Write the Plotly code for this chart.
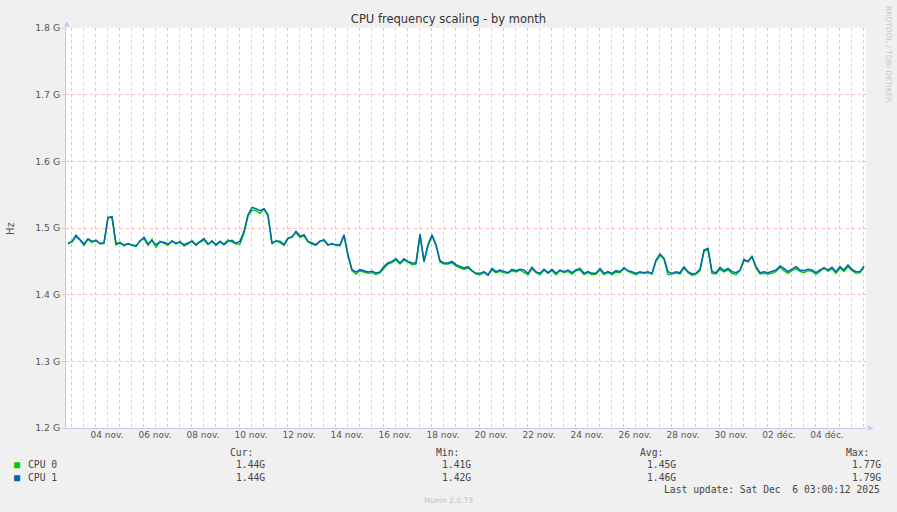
import pandas as pd
import plotly.graph_objects as go

# munin "by month" view: 800 hours, one point every 4 h
start = "2025-11-02 19:00"
end = "2025-12-06 03:00"
times = pd.date_range("2025-11-02 21:00", periods=200, freq="4h")

cpu0 = [
    1.478, 1.479, 1.487, 1.482, 1.474, 1.483, 1.478, 1.482, 1.476, 1.477,
    1.515, 1.516, 1.474, 1.479, 1.473, 1.477, 1.474, 1.472, 1.481, 1.484,
    1.474, 1.483, 1.471, 1.480, 1.477, 1.474, 1.481, 1.476, 1.480, 1.473,
    1.476, 1.481, 1.474, 1.479, 1.482, 1.475, 1.481, 1.474, 1.479, 1.476,
    1.482, 1.479, 1.476, 1.476, 1.492, 1.518, 1.527, 1.526, 1.522, 1.528,
    1.518, 1.476, 1.481, 1.478, 1.474, 1.484, 1.487, 1.493, 1.486, 1.488,
    1.479, 1.476, 1.474, 1.481, 1.481, 1.474, 1.477, 1.474, 1.473, 1.488,
    1.458, 1.436, 1.431, 1.436, 1.434, 1.432, 1.433, 1.430, 1.433, 1.440,
    1.446, 1.448, 1.452, 1.446, 1.452, 1.449, 1.445, 1.446, 1.489, 1.449,
    1.473, 1.488, 1.474, 1.449, 1.446, 1.446, 1.448, 1.443, 1.441, 1.438,
    1.440, 1.435, 1.431, 1.430, 1.433, 1.429, 1.437, 1.433, 1.435, 1.433,
    1.432, 1.436, 1.434, 1.437, 1.434, 1.430, 1.439, 1.433, 1.430, 1.437,
    1.432, 1.436, 1.430, 1.436, 1.433, 1.435, 1.431, 1.436, 1.437, 1.430,
    1.433, 1.430, 1.431, 1.437, 1.430, 1.433, 1.430, 1.434, 1.433, 1.441,
    1.435, 1.432, 1.430, 1.433, 1.432, 1.433, 1.431, 1.450, 1.459, 1.453,
    1.430, 1.431, 1.433, 1.431, 1.440, 1.433, 1.429, 1.431, 1.436, 1.465,
    1.468, 1.432, 1.431, 1.438, 1.434, 1.437, 1.432, 1.430, 1.436, 1.451,
    1.450, 1.458, 1.440, 1.431, 1.432, 1.431, 1.432, 1.435, 1.441, 1.436,
    1.432, 1.436, 1.439, 1.435, 1.433, 1.436, 1.435, 1.431, 1.435, 1.441,
    1.435, 1.439, 1.432, 1.440, 1.435, 1.442, 1.436, 1.432, 1.433, 1.441,
]

cpu1 = [
    1.476, 1.480, 1.489, 1.483, 1.476, 1.484, 1.480, 1.481, 1.477, 1.478,
    1.516, 1.517, 1.477, 1.477, 1.475, 1.476, 1.475, 1.4735, 1.480, 1.486,
    1.476, 1.481, 1.475, 1.479, 1.4785, 1.476, 1.480, 1.4775, 1.4785, 1.475,
    1.4775, 1.480, 1.475, 1.480, 1.484, 1.476, 1.480, 1.475, 1.480, 1.475,
    1.480, 1.4815, 1.4775, 1.480, 1.495, 1.520, 1.531, 1.529, 1.526, 1.529,
    1.520, 1.4775, 1.480, 1.480, 1.475, 1.485, 1.486, 1.495, 1.4875, 1.490,
    1.480, 1.4775, 1.475, 1.480, 1.4825, 1.475, 1.476, 1.475, 1.475, 1.490,
    1.460, 1.4375, 1.434, 1.4375, 1.436, 1.434, 1.435, 1.4325, 1.434, 1.4425,
    1.4475, 1.450, 1.454, 1.4475, 1.454, 1.450, 1.4475, 1.4475, 1.491, 1.450,
    1.475, 1.490, 1.475, 1.451, 1.4475, 1.4475, 1.450, 1.445, 1.4425, 1.440,
    1.442, 1.436, 1.432, 1.432, 1.4345, 1.4295, 1.4395, 1.4345, 1.437, 1.4345,
    1.433, 1.438, 1.436, 1.438, 1.437, 1.432, 1.441, 1.4345, 1.432, 1.438,
    1.433, 1.438, 1.432, 1.437, 1.4345, 1.437, 1.433, 1.437, 1.4395, 1.432,
    1.4345, 1.432, 1.432, 1.4395, 1.432, 1.4345, 1.432, 1.436, 1.4345, 1.4395,
    1.436, 1.4345, 1.432, 1.4345, 1.433, 1.4345, 1.432, 1.452, 1.461, 1.4545,
    1.4345, 1.432, 1.4345, 1.433, 1.442, 1.4345, 1.431, 1.432, 1.438, 1.467,
    1.4695, 1.4345, 1.433, 1.441, 1.436, 1.4395, 1.4345, 1.433, 1.437, 1.453,
    1.4495, 1.457, 1.442, 1.433, 1.4345, 1.433, 1.4345, 1.437, 1.443, 1.4395,
    1.4345, 1.438, 1.442, 1.437, 1.436, 1.438, 1.437, 1.433, 1.437, 1.4395,
    1.437, 1.441, 1.4345, 1.442, 1.437, 1.4445, 1.438, 1.4345, 1.4345, 1.443,
]

y_ticks = [1.2, 1.3, 1.4, 1.5, 1.6, 1.7, 1.8]
y_labels = ["1.2 G", "1.3 G", "1.4 G", "1.5 G", "1.6 G", "1.7 G", "1.8 G"]

x_label_times = pd.date_range("2025-11-04 12:00", periods=16, freq="2D")
x_labels = ["04 nov.", "06 nov.", "08 nov.", "10 nov.", "12 nov.", "14 nov.",
            "16 nov.", "18 nov.", "20 nov.", "22 nov.", "24 nov.", "26 nov.",
            "28 nov.", "30 nov.", "02 déc.", "04 déc."]

series_names = ["CPU 0", "CPU 1"]
series_colors = ["#00cc00", "#0066b3"]
col_heads = ["Cur:", "Min:", "Avg:", "Max:"]
stats = [["1.44G", "1.41G", "1.45G", "1.77G"],
         ["1.44G", "1.42G", "1.46G", "1.79G"]]

W, H = 897, 512
L, R, T, B = 66, 866, 28, 428

def px(x):
    return (x - L) / (R - L)

def py(y):
    return (B - y) / (B - T)

SANS = "DejaVu Sans"
MONO = "DejaVu Sans Mono"
MAJOR = "rgba(240,120,120,0.5)"
MINOR = "rgba(180,180,180,0.55)"
AXIS = "#c4c8f4"

fig = go.Figure()
fig.add_trace(go.Scatter(x=times, y=cpu0, name=series_names[0], mode="lines",
                         line=dict(color=series_colors[0], width=1.5),
                         xaxis="x", yaxis="y"))
fig.add_trace(go.Scatter(x=times, y=cpu1, name=series_names[1], mode="lines",
                         line=dict(color=series_colors[1], width=1.5),
                         xaxis="x2", yaxis="y"))

fig.update_layout(
    width=W, height=H,
    margin=dict(l=L, r=W - R, t=T, b=H - B),
    paper_bgcolor="#f0f0f0", plot_bgcolor="#ffffff",
    showlegend=False,
    title=dict(text="CPU frequency scaling - by month", x=0.5, xanchor="center",
               y=1 - 19 / H, yanchor="middle",
               font=dict(family=SANS, size=11.5, color="#333333")),
    xaxis=dict(type="date", range=[start, end], showticklabels=False,
               tick0="2025-11-03 00:00", dtick=86400000, ticks="",
               showgrid=True, gridcolor=MAJOR, griddash="dot", gridwidth=1,
               minor=dict(tick0="2025-11-03 00:00", dtick=43200000,
                          showgrid=True, gridcolor=MINOR, griddash="dot",
                          gridwidth=1, ticks=""),
               showline=True, linecolor=AXIS, linewidth=1, zeroline=False),
    xaxis2=dict(type="date", range=[start, end], overlaying="x", anchor="y",
                side="bottom", tickmode="array", tickvals=x_label_times,
                ticktext=x_labels, showgrid=False, ticks="", showline=False,
                zeroline=False,
                tickfont=dict(family=SANS, size=9, color="#555555")),
    yaxis=dict(range=[1.2, 1.8], tickmode="array", tickvals=y_ticks,
               ticktext=y_labels, showgrid=True, gridcolor=MAJOR,
               griddash="dot", gridwidth=1, zeroline=False,
               showline=True, linecolor=AXIS, linewidth=1,
               ticks="outside", ticklen=3, tickcolor="#cccccc",
               tickfont=dict(family=SANS, size=9.3, color="#555555")),
)

ann = []

def text(x, y, s, anchor="left", size=9.7, color="#444444", family=MONO, angle=0):
    ann.append(dict(x=px(x), y=py(y), xref="paper", yref="paper", text=s,
                    showarrow=False, xanchor=anchor, yanchor="middle",
                    textangle=angle,
                    font=dict(family=family, size=size, color=color)))

# axis arrows
text(66.5, 24, "▲", anchor="center", size=7, color=AXIS, family=SANS)
text(870.5, 428, "▶", anchor="center", size=7, color=AXIS, family=SANS)

text(10, 228, "Hz", anchor="center", size=10, color="#555555", family=SANS, angle=-90)
text(888, 54, "RRDTOOL / TOBI OETIKER", anchor="center", size=7.5,
     color="#c8c8c8", family=SANS, angle=90)

head_right = [255, 461, 665, 871]
val_right = [267, 473, 678, 883]
for hx, h in zip(head_right, col_heads):
    text(hx, 452, h, anchor="right")

row_y = [464, 477]
for ry, name, color, vals in zip(row_y, series_names, series_colors, stats):
    text(17, ry, "■", anchor="center", size=10, color=color)
    text(26, ry, name)
    for vx, v in zip(val_right, vals):
        text(vx, ry, v, anchor="right")

text(882, 489, "Last update: Sat Dec \u00a06 03:00:12 2025", anchor="right")
text(448, 500, "Munin 2.0.73", anchor="center", size=7.5, color="#c0c0c0", family=SANS)

fig.update_layout(annotations=ann)

# drop the default page margin so the figure sits at the window's corner
fig.write_html("out.html",
               config={"displayModeBar": False},
               post_script="document.body.style.margin='0';"
                           "document.body.style.background='#f0f0f0';")
